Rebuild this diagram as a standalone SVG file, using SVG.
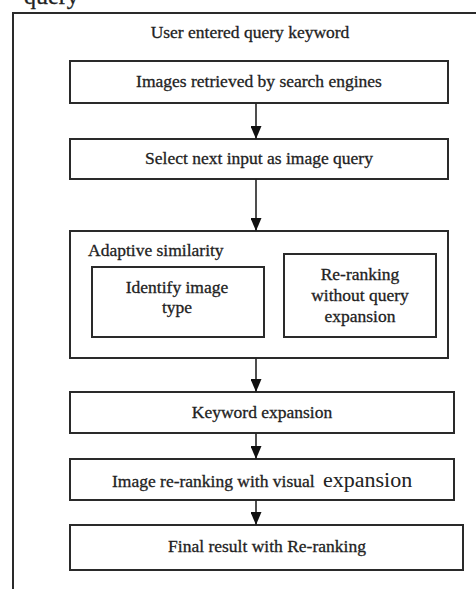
<svg xmlns="http://www.w3.org/2000/svg" width="476" height="589" viewBox="0 0 476 589">
  <style>
    .box { fill: #fff; stroke: #2a2a2a; stroke-width: 2; }
    .frame { fill: none; stroke: #2a2a2a; stroke-width: 2; }
    .lbl { font-family: "Liberation Serif", "Times New Roman", serif; font-size: 17.5px; fill: #222; stroke: #222; stroke-width: 0.3; }
    .mid { text-anchor: middle; }
    .wire { stroke: #222; stroke-width: 1.6; fill: none; }
  </style>
  <defs>
    <marker id="tip" viewBox="0 0 13 11" refX="13" refY="5.5" markerWidth="13" markerHeight="11" markerUnits="userSpaceOnUse" orient="auto">
      <path d="M0,0 L13,5.5 L0,11 Z" fill="#111"/>
    </marker>
  </defs>
  <rect width="476" height="589" fill="#fff"/>

  <!-- text line running in from above -->
  <text class="lbl" x="24" y="4" style="font-size:24px">query</text>

  <!-- open outer frame -->
  <path class="frame" d="M13,589 V13 H476"/>

  <g id="title">
    <text class="lbl mid" x="250" y="38">User entered query keyword</text>
  </g>

  <g id="retrieve">
    <rect class="box" x="70" y="61" width="378" height="42"/>
    <text class="lbl mid" x="259" y="87">Images retrieved by search engines</text>
  </g>

  <g id="select">
    <rect class="box" x="70" y="139" width="378" height="40"/>
    <text class="lbl mid" x="259" y="164">Select next input as image query</text>
  </g>

  <g id="adaptive">
    <rect class="box" x="70" y="231" width="378" height="127"/>
    <text class="lbl" x="88" y="256">Adaptive similarity</text>
  </g>

  <g id="identify">
    <rect class="box" x="92" y="267" width="172" height="70"/>
    <text class="lbl mid" x="177" y="293">Identify image</text>
    <text class="lbl mid" x="177" y="313">type</text>
  </g>

  <g id="rerank-plain">
    <rect class="box" x="284" y="254" width="152" height="83"/>
    <text class="lbl mid" x="360" y="280">Re-ranking</text>
    <text class="lbl mid" x="360" y="301">without query</text>
    <text class="lbl mid" x="360" y="322">expansion</text>
  </g>

  <g id="keyword">
    <rect class="box" x="70" y="392" width="384" height="41"/>
    <text class="lbl mid" x="262" y="418">Keyword expansion</text>
  </g>

  <g id="visual">
    <rect class="box" x="70" y="459" width="384" height="41"/>
    <text class="lbl" x="112" y="487">Image re-ranking with visual <tspan x="323" style="font-size:22px;stroke-width:0.05">expansion</tspan></text>
  </g>

  <g id="final">
    <rect class="box" x="70" y="525" width="393" height="45"/>
    <text class="lbl mid" x="267" y="552">Final result with Re-ranking</text>
  </g>

  <g id="connectors">
    <line class="wire" x1="256" y1="103" x2="256" y2="139" marker-end="url(#tip)"/>
    <line class="wire" x1="256" y1="179" x2="256" y2="231" marker-end="url(#tip)"/>
    <line class="wire" x1="256" y1="358" x2="256" y2="392" marker-end="url(#tip)"/>
    <line class="wire" x1="256" y1="433" x2="256" y2="459" marker-end="url(#tip)"/>
    <line class="wire" x1="256" y1="500" x2="256" y2="525" marker-end="url(#tip)"/>
  </g>
</svg>
